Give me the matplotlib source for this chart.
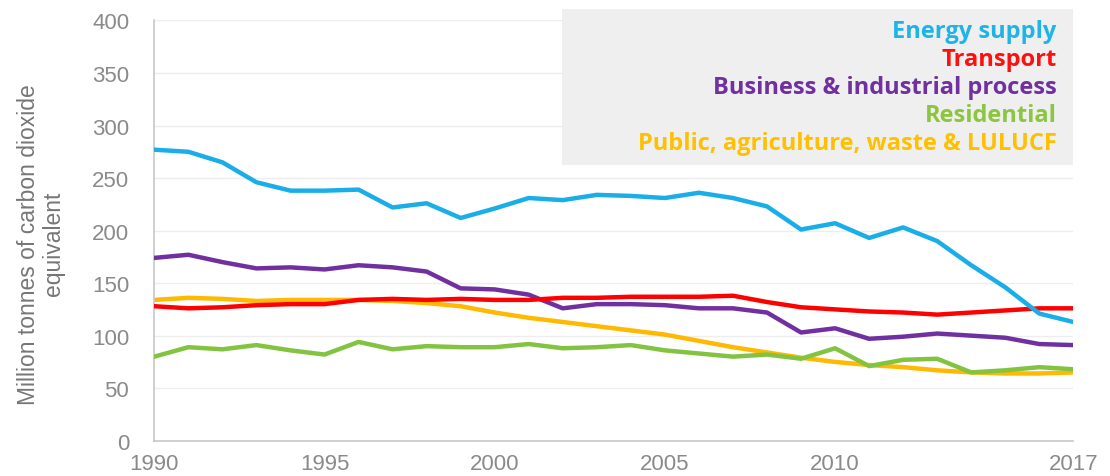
import numpy as np
import matplotlib
matplotlib.use("Agg")
import matplotlib.pyplot as plt
from matplotlib.patches import Rectangle

years = np.arange(1990, 2018)

energy_supply = [277, 275, 265, 246, 238, 238, 239, 222, 226, 212,
                 221, 231, 229, 234, 233, 231, 236, 231, 223, 201,
                 207, 193, 203, 190, 167, 146, 121, 113]
transport = [128, 126, 127, 129, 130, 130, 134, 135, 134, 135,
             134, 134, 136, 136, 137, 137, 137, 138, 132, 127,
             125, 123, 122, 120, 122, 124, 126, 126]
business = [174, 177, 170, 164, 165, 163, 167, 165, 161, 145,
            144, 139, 126, 130, 130, 129, 126, 126, 122, 103,
            107, 97, 99, 102, 100, 98, 92, 91]
residential = [80, 89, 87, 91, 86, 82, 94, 87, 90, 89,
               89, 92, 88, 89, 91, 86, 83, 80, 82, 78,
               88, 71, 77, 78, 65, 67, 70, 68]
public_agri = [134, 136, 135, 133, 134, 134, 134, 133, 131, 128,
               122, 117, 113, 109, 105, 101, 95, 89, 84, 79,
               75, 72, 70, 67, 65, 64, 64, 65]

names = ["Energy supply", "Transport", "Business & industrial process",
         "Residential", "Public, agriculture, waste & LULUCF"]
series = [energy_supply, transport, business, residential, public_agri]
line_colors = ["#1aaee8", "#fe0000", "#7030a0", "#82c341", "#ffb900"]
text_colors = ["#1fb4e8", "#fe1010", "#7030a0", "#8cc63f", "#ffc000"]
zorders = [6, 5, 4, 3, 2]

xticks = [1990, 1995, 2000, 2005, 2010, 2017]
yticks = [0, 50, 100, 150, 200, 250, 300, 350, 400]

fig = plt.figure(figsize=(11.1, 4.77), dpi=100)
ax = fig.add_axes([0.139, 0.074, 0.828, 0.881])

for vals, c, z in zip(series, line_colors, zorders):
    ax.plot(years, vals, color=c, lw=3.2, zorder=z, solid_joinstyle="round")

ax.set_xlim(1990, 2017)
ax.set_ylim(0, 400)
ax.set_xticks(xticks)
ax.set_yticks(yticks)
ax.tick_params(length=0, labelsize=16, labelcolor="#8a8a8a")
ax.tick_params(axis="y", pad=18)
ax.tick_params(axis="x", pad=9)
for lab in ax.get_xticklabels() + ax.get_yticklabels():
    lab.set_family(["Liberation Sans", "DejaVu Sans"])
ax.grid(axis="y", color="#ededed", lw=1)
ax.set_axisbelow(True)
for s in ["top", "right"]:
    ax.spines[s].set_visible(False)
for s in ["left", "bottom"]:
    ax.spines[s].set_color("#c8c8c8")
    ax.spines[s].set_linewidth(1.2)

ax.set_ylabel("Million tonnes of carbon dioxide\nequivalent", fontsize=16.5,
              color="#767676", family=["Liberation Sans", "DejaVu Sans"],
              linespacing=1.1)
ax.yaxis.set_label_coords(-0.097, 0.47)

# legend box
fig.patches.append(Rectangle((0.506, 0.652), 0.461, 0.327, transform=fig.transFigure,
                             facecolor="#efefef", edgecolor="none", zorder=0))
y0 = 1 - 32 / 477
for i, (name, c) in enumerate(zip(names, text_colors)):
    fig.text(0.952, y0 - i * 28 / 477, name, color=c, ha="right", va="center",
             fontsize=17, fontweight="bold", family=["Open Sans", "DejaVu Sans"])

fig.savefig("out.png", dpi=100)
